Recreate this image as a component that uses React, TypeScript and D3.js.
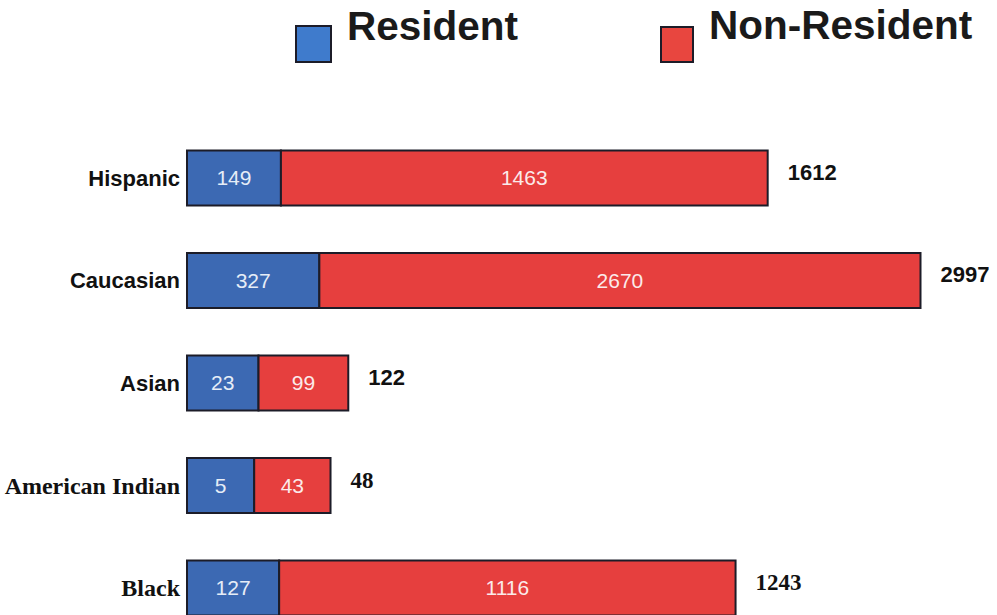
import React from "react";
import * as d3 from "d3";

const categories = ["Hispanic", "Caucasian", "Asian", "American Indian", "Black"];
const resident = [149, 327, 23, 5, 127];
const nonResident = [1463, 2670, 99, 43, 1116];
const totals = [1612, 2997, 122, 48, 1243];
const seriesNames = ["Resident", "Non-Resident"];

const W = 997;
const H = 615;
const SANS = "'Liberation Sans', Arial, Helvetica, sans-serif";
const SERIF = "'Liberation Serif', 'Times New Roman', Times, serif";
const serifRows = new Set(["American Indian", "Black"]);

const BLUE = "#3c69b3";
const RED = "#e63f3e";
const LEG_BLUE = "#3f7bcc";
const LEG_RED = "#e8463f";
const STROKE = "#1c1c28";

export default function App() {
  const x0 = 187;
  // The original drawing is not linear: small segments keep a minimum width.
  const segWidth = d3
    .scaleLinear()
    .domain([0, 100, 150, 330, 1100, 1500, 2700])
    .range([66, 90, 94, 133, 455, 490, 604]);
  const y = d3.scalePoint<string>().domain(categories).range([178, 588]);
  const barH = 55;

  return (
    <svg
      width={W}
      height={H}
      style={{ position: "absolute", left: 0, top: 0, background: "#ffffff" }}
    >
      {/* Legend */}
      <g>
        <rect x={296} y={26} width={35} height={36} fill={LEG_BLUE} stroke={STROKE} strokeWidth={2} />
        <text x={347} y={40} fontFamily={SANS} fontWeight="bold" fontSize={40.5} fill="#1a1a1a">
          {seriesNames[0]}
        </text>
        <rect x={661} y={27} width={32} height={35} fill={LEG_RED} stroke={STROKE} strokeWidth={2} />
        <text x={709} y={39} fontFamily={SANS} fontWeight="bold" fontSize={40.5} fill="#1a1a1a">
          {seriesNames[1]}
        </text>
      </g>

      {categories.map((c, i) => {
        const cy = y(c)!;
        const serif = serifRows.has(c);
        const font = serif ? SERIF : SANS;
        const fs = serif ? 24 : 22;
        const wR = segWidth(resident[i]);
        const wN = segWidth(nonResident[i]);
        const top = cy - barH / 2;
        return (
          <g key={c}>
            <text
              x={x0 - 7}
              y={cy}
              dy="0.35em"
              textAnchor="end"
              fontFamily={font}
              fontWeight="bold"
              fontSize={fs}
              fill="#111"
            >
              {c}
            </text>
            <rect x={x0} y={top} width={wR} height={barH} fill={BLUE} stroke={STROKE} strokeWidth={2} />
            <rect x={x0 + wR} y={top} width={wN} height={barH} fill={RED} stroke={STROKE} strokeWidth={2} />
            <text
              x={x0 + wR / 2}
              y={cy}
              dy="0.35em"
              textAnchor="middle"
              fontFamily={SANS}
              fontSize={21}
              fill="#e6edf7"
            >
              {resident[i]}
            </text>
            <text
              x={x0 + wR + wN / 2}
              y={cy}
              dy="0.35em"
              textAnchor="middle"
              fontFamily={SANS}
              fontSize={21}
              fill="#fbeaea"
            >
              {nonResident[i]}
            </text>
            <text
              x={x0 + wR + wN + 20}
              y={cy - 6}
              dy="0.35em"
              fontFamily={font}
              fontWeight="bold"
              fontSize={serif ? 23 : 22}
              fill="#111"
            >
              {totals[i]}
            </text>
          </g>
        );
      })}
    </svg>
  );
}
